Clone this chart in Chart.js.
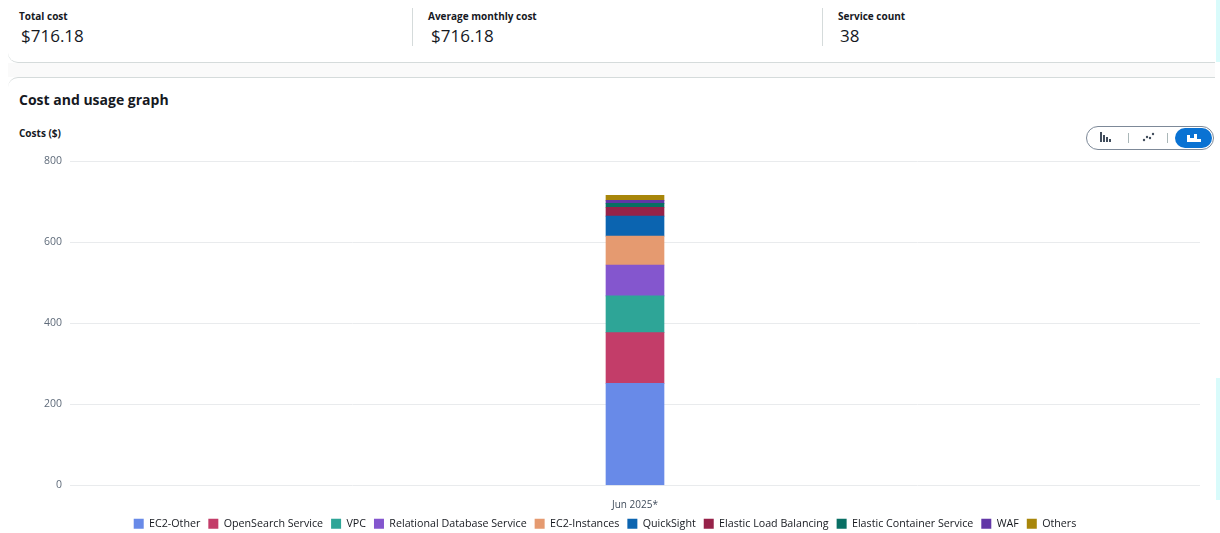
<!DOCTYPE html>
<html>
<head>
<meta charset="utf-8">
<script src="https://cdn.jsdelivr.net/npm/chart.js@4/dist/chart.umd.min.js"></script>
<style>
  html,body{margin:0;padding:0;background:#fff;width:1220px;height:533px;overflow:hidden;font-family:"Open Sans","Noto Sans",Arial,sans-serif;color:#16191f;}
  .summary{position:absolute;left:8px;top:0;width:1207px;height:62px;border-bottom:1px solid #d5dbdb;border-bottom-left-radius:10px;}
  .band{position:absolute;left:8px;top:63px;width:1207px;height:14px;background:#fafafa;}
  .card{position:absolute;left:8px;top:77px;width:1207px;height:460px;border-top:1px solid #d5dbdb;border-top-left-radius:10px;}
  .lab{position:absolute;font-size:10px;font-weight:700;color:#16191f;}
  .val{position:absolute;font-size:17px;color:#16191f;}
  .div{position:absolute;top:8px;width:1px;height:38px;background:#d5dbdb;}
  .title{position:absolute;left:19px;top:90px;font-size:14px;font-weight:700;}
  .ytitle{position:absolute;left:19px;top:126px;font-size:10px;font-weight:700;}
  .seg{position:absolute;left:1086px;top:126px;width:126px;height:22px;border:1px solid #7d8998;border-radius:12px;background:#fff;}
  .segsel{position:absolute;left:1175px;top:128px;width:37px;height:20px;border-radius:10px;background:#0972d3;}
  .sep{position:absolute;top:133px;width:1px;height:10px;background:#aab7b8;}
  .cyan{position:absolute;left:1216px;width:4px;background:#d9fbfb;}
  #wrap{position:absolute;left:10px;top:147px;width:1200px;height:399px;}
</style>
</head>
<body>
<div class="summary"></div>
<div class="band"></div>
<div class="card"></div>
<div class="cyan" style="top:0;height:62px"></div>
<div class="cyan" style="top:378px;height:122px"></div>
<div class="lab" style="left:19px;top:9px">Total cost</div>
<div class="val" style="left:21px;top:24px">$716.18</div>
<div class="div" style="left:412px"></div>
<div class="lab" style="left:428px;top:9px">Average monthly cost</div>
<div class="val" style="left:431px;top:24px">$716.18</div>
<div class="div" style="left:822px"></div>
<div class="lab" style="left:838px;top:9px">Service count</div>
<div class="val" style="left:840px;top:24px">38</div>
<div class="title">Cost and usage graph</div>
<div class="ytitle">Costs ($)</div>
<div class="seg"></div>
<div class="sep" style="left:1128px"></div>
<div class="sep" style="left:1167px"></div>
<div class="segsel"></div>
<svg style="position:absolute;left:1099px;top:131px" width="14" height="12"><rect x="1" y="1" width="2" height="10" fill="#414d5c"/><rect x="4" y="4" width="2" height="7" fill="#414d5c"/><rect x="7" y="6" width="2" height="5" fill="#414d5c"/><rect x="10" y="8" width="2" height="3" fill="#414d5c"/></svg>
<svg style="position:absolute;left:1142px;top:132px" width="14" height="10"><circle cx="2" cy="8" r="1.2" fill="#414d5c"/><circle cx="5" cy="5" r="1.2" fill="#414d5c"/><circle cx="8" cy="6" r="1.2" fill="#414d5c"/><circle cx="11" cy="2" r="1.2" fill="#414d5c"/></svg>
<svg style="position:absolute;left:1186px;top:131px" width="16" height="12"><path d="M1 11 L1 4 L4 4 L4 7 L8 7 L8 3 L11 3 L11 8 L15 8 L15 11 Z" fill="#fff"/></svg>
<div id="wrap"><canvas id="c"></canvas></div>
<script>
const categories = ["Jun 2025*"];
const seriesNames = ["EC2-Other","OpenSearch Service","VPC","Relational Database Service","EC2-Instances","QuickSight","Elastic Load Balancing","Elastic Container Service","WAF","Others"];
const ec2Other = [251.5];
const openSearch = [125.3];
const vpc = [91.0];
const rds = [76.2];
const ec2Instances = [71.3];
const quickSight = [49.2];
const elb = [22.0];
const ecs = [9.8];
const waf = [7.3];
const others = [12.58];
const yTicks = [0,200,400,600,800];
const seriesValues = [ec2Other,openSearch,vpc,rds,ec2Instances,quickSight,elb,ecs,waf,others];
const colors = ["#688ae8","#c33d69","#2ea597","#8456ce","#e59a70","#0b64b0","#962249","#096f64","#6237a7","#a8860a"];

const legendShift = {
  id:'legendShift',
  beforeDraw(chart){
    const lg = chart.legend;
    if (lg && !lg._shifted){
      const orig = lg.draw.bind(lg);
      lg.draw = function(){ const ctx=this.ctx; ctx.save(); ctx.translate(0,-7); orig(); ctx.restore(); };
      lg._shifted = true;
    }
  }
};

Chart.defaults.font.family = '"Open Sans","Noto Sans",Arial,sans-serif';
new Chart(document.getElementById('c'), {
  type: 'bar',
  data: {
    labels: categories,
    datasets: seriesNames.map((n,i)=>({label:n,data:seriesValues[i],backgroundColor:colors[i],borderWidth:0,barThickness:58}))
  },
  plugins:[legendShift],
  options: {
    responsive:true, maintainAspectRatio:false, animation:false,
    layout:{padding:{top:4,right:10,bottom:0,left:0}},
    plugins:{
      tooltip:{enabled:false},
      legend:{position:'bottom',labels:{boxWidth:10,boxHeight:10,padding:8,font:{size:10.7},color:'#16191f'}}
    },
    scales:{
      x:{stacked:true,grid:{display:false},border:{display:false},ticks:{font:{size:10},color:'#414d5c',padding:6}},
      y:{stacked:true,min:0,max:800,afterBuildTicks:(s)=>{s.ticks=yTicks.map(v=>({value:v}));},
         afterFit:(s)=>{s.width=60;},
         grid:{color:'#e9ebed',drawTicks:false},border:{display:false},
         ticks:{font:{size:10.5},color:'#5f6b7a',padding:8}}
    }
  }
});
</script>
</body>
</html>
